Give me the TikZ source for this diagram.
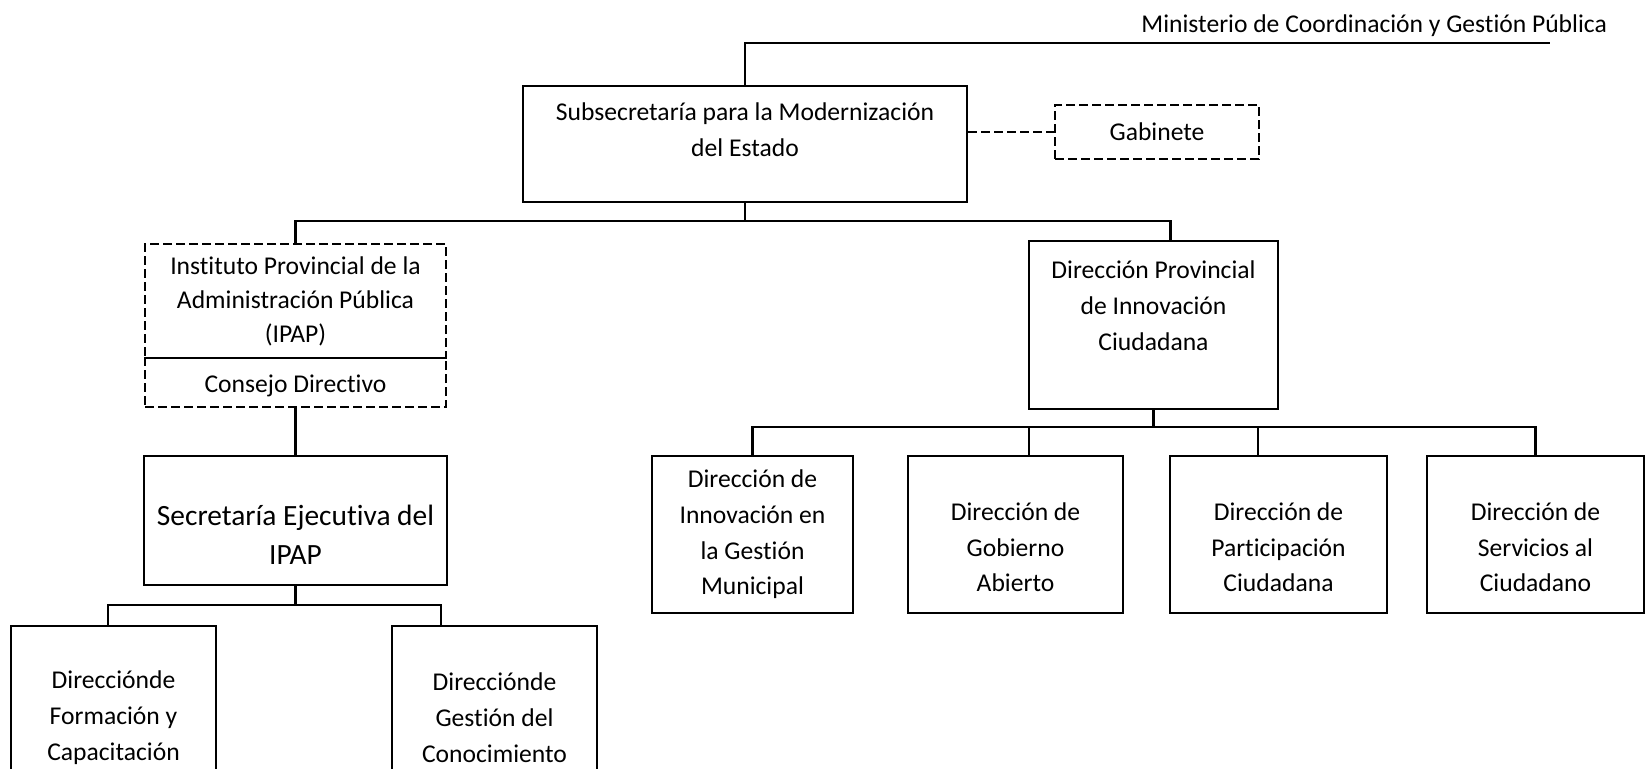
\documentclass[tikz,border=0pt]{standalone}
\usepackage{fontspec}
\setmainfont{Carlito}[Ligatures=NoCommon]
\usetikzlibrary{positioning}

\begin{document}
\begin{tikzpicture}[x=0.5pt, y=-0.5pt,
  box/.style={draw, line width=1.2pt, inner sep=0pt},
  dbox/.style={box, dash pattern=on 4.5pt off 2pt},
  txt/.style={align=center, font=\fontsize{12.8}{18}\selectfont},
  row/.style={box, minimum height=78.5pt},
  rowtxt/.style={txt, font=\fontsize{12.8}{17.8}\selectfont},
  con/.style={line width=1.05pt}]
\useasboundingbox (0,0) rectangle (1649,768);
% top
\node[txt, anchor=east] (minis) at (1614,26) {Ministerio de Coordinación y Gestión Pública};
\coordinate (minis-end) at (1550,43);
\node[box, minimum width=222pt, minimum height=58pt] (subsec) at (745,144) {};
\node[txt] (subsec-txt) at (745,130) {Subsecretaría para la Modernización\\del Estado};
\node[dbox, txt, minimum width=102pt, minimum height=27pt] (gab) at (1157,132) {Gabinete};
% left branch
\node[dbox, txt, font=\fontsize{12.8}{17}\selectfont, minimum width=150.5pt, minimum height=57pt] (ipap) at (295.5,301) {Instituto Provincial de la\\Administración Pública\\(IPAP)};
\node[dbox, minimum width=150.5pt, minimum height=24.5pt] (consejo) at (295.5,382.5) {};
\node[txt] (consejo-txt) at (295.5,386) {Consejo Directivo};
\node[box, minimum width=151.5pt, minimum height=64.5pt] (secre) at (295.5,520.5) {};
\node[txt, font=\fontsize{14.7}{19.5}\selectfont] (secre-txt) at (295.5,535) {Secretaría Ejecutiva del\\IPAP};
\node[box, txt, minimum width=102.5pt, minimum height=92pt] (formac) at (113.5,718) {Direcciónde\\Formación y\\Capacitación};
\node[box, txt, minimum width=102.5pt, minimum height=92pt] (gestion) at (494.5,718) {Direcciónde\\Gestión del\\Conocimiento};
% right branch
\node[box, minimum width=124.5pt, minimum height=84pt] (dpic) at (1153.5,325) {};
\node[txt] (dpic-txt) at (1153.5,306) {Dirección Provincial\\de Innovación\\Ciudadana};
\node[row, rowtxt, minimum width=100.5pt] (dmun) at (752.5,534.5) {Dirección de\\Innovación en\\la Gestión\\Municipal};
\node[row, minimum width=107.5pt] (dgob) at (1015.5,534.5) {};
\node[row, minimum width=108.5pt] (dpart) at (1278.5,534.5) {};
\node[row, minimum width=108.5pt] (dserv) at (1535.5,534.5) {};
\node[rowtxt] (dgob-txt) at (1015.5,547.5) {Dirección de\\Gobierno\\Abierto};
\node[rowtxt] (dpart-txt) at (1278.5,547.5) {Dirección de\\Participación\\Ciudadana};
\node[rowtxt] (dserv-txt) at (1535.5,547.5) {Dirección de\\Servicios al\\Ciudadano};
% buses
\coordinate (bus1) at (0,221);
\coordinate (bus2) at (0,605);
\coordinate (bus3) at (0,427);
\coordinate (dpic-in) at ([xshift=8.5pt]dpic.north);
\coordinate (formac-in) at ([xshift=-2.75pt]formac.north);
\coordinate (gestion-in) at ([xshift=-26.75pt]gestion.north);
\coordinate (dgob-in) at ([xshift=6.75pt]dgob.north);
\coordinate (dpart-in) at ([xshift=-10.25pt]dpart.north);
\draw[con](subsec.north) |- (minis-end);
\draw[con, dash pattern=on 4.5pt off 2pt](subsec.east |- gab.west) -- (gab.west);
\draw[con](subsec.south) -- (subsec.south |- bus1);
\draw[con](ipap.north) |- (dpic-in |- bus1) -- (dpic-in);
\draw[con](consejo.south) -- (secre.north);
\draw[con](secre.south) -- (secre.south |- bus2);
\draw[con](formac-in) |- (gestion-in |- bus2) -- (gestion-in);
\draw[con](dpic.south) -- (dpic.south |- bus3);
\draw[con](dmun.north) |- (dserv.north |- bus3) -- (dserv.north);
\draw[con](dgob-in) -- (dgob-in |- bus3);
\draw[con](dpart-in) -- (dpart-in |- bus3);
\end{tikzpicture}
\end{document}
